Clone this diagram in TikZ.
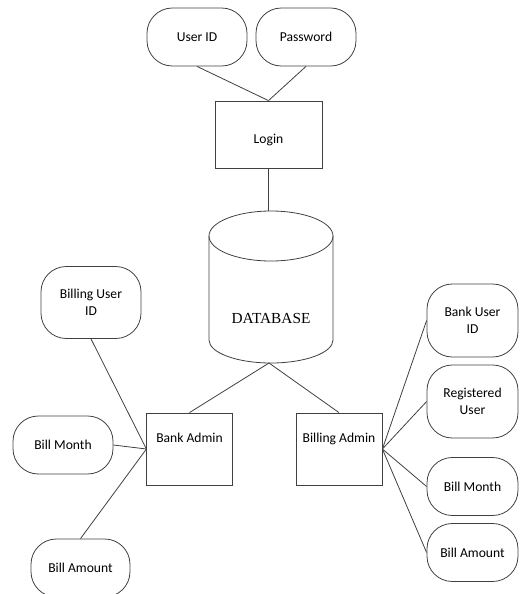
\documentclass[tikz,border=0pt]{standalone}
\usepackage{fontspec}
\setmainfont{Carlito}
\newfontfamily\dbfont{Liberation Serif}

\begin{document}
\begin{tikzpicture}[x=0.75pt, y=-0.75pt,
    every node/.style={font=\fontsize{10.2}{12.5}\selectfont},
    attr/.style={draw=black!75, line width=0.6pt, rounded corners=19pt,
      minimum width=75pt, minimum height=43.5pt, align=center, inner sep=2pt},
    entity/.style={draw=black!75, line width=0.6pt, minimum width=64pt,
      minimum height=54pt, text height=6pt, text depth=16pt},
    link/.style={black!75, line width=0.6pt}]
  \useasboundingbox (0,0) rectangle (519,594);
  \clip (0,0) rectangle (519,594);

  % Login
  \node[attr] (userid) at (197,37) {User ID};
  \node[attr] (password) at (306,37) {Password};
  \node[draw=black!75, line width=0.6pt, minimum width=80.25pt,
    minimum height=50.25pt, text height=14pt, text depth=0pt] (login) at (268.5,134.5) {Login};
  \draw[link] (userid.south) -- (login.north);
  \draw[link] (password.south) -- (login.north);

  % Datenbank
  \draw[link] (209,236) -- (209,340)
    arc[start angle=180, end angle=360, x radius=46.5pt, y radius=17.25pt]
    -- (333,236);
  \draw[link] (271,236) ellipse [x radius=46.5pt, y radius=18.75pt];
  \node[font=\dbfont\fontsize{11.5}{13}\selectfont] (db) at (271,318) {DATABASE};
  \coordinate (dbtop) at (268.5,211);
  \coordinate (dbbot) at (269,363);
  \draw[link] (login.south) -- (dbtop);

  % Admins
  \node[entity] (bank) at (189.5,449) {Bank Admin};
  \node[entity, minimum width=64.5pt] (billing) at (339,449) {Billing Admin};
  \draw[link] (dbbot) -- (bank.north);
  \draw[link] (dbbot) -- (billing.north);

  % links
  \node[attr, minimum height=54pt] (billuid) at (91,302.5) {Billing User\\ID};
  \node[attr] (lmonth) at (63,445) {Bill Month};
  \node[attr, minimum width=74.25pt] (lamount) at (80.5,568) {Bill Amount};
  \draw[link] (billuid.south) -- (bank.west);
  \draw[link] (lmonth.east) -- (bank.west);
  \draw[link] (lamount.north) -- (bank.west);

  % rechts
  \begin{scope}[attr/.append style={minimum width=68.25pt}]
    \node[attr, minimum height=54.75pt] (bankuid) at (472.5,320.5) {Bank User\\ID};
    \node[attr, minimum height=54.75pt] (reguser) at (472.5,401.5) {Registered\\User};
    \node[attr] (rmonth) at (472.5,486.5) {Bill Month};
    \node[attr] (ramount) at (472.5,552.5) {Bill Amount};
  \end{scope}
  \foreach \n in {bankuid, reguser, rmonth, ramount}
    \draw[link] (billing.east) -- (\n.west);

\end{tikzpicture}
\end{document}
